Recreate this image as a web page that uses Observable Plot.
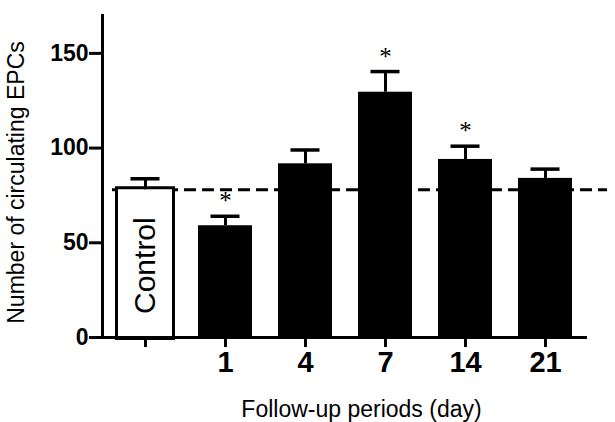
<!DOCTYPE html>
<html>
<head>
<meta charset="utf-8">
<script src="https://cdn.jsdelivr.net/npm/d3@7"></script>
<script src="https://cdn.jsdelivr.net/npm/@observablehq/plot@0.6"></script>
<style>
  html, body { margin: 0; padding: 0; background: #fff; }
  #chart { width: 615px; height: 422px; }
</style>
</head>
<body>
<div id="chart"></div>
<script>
const categories = ["Control", "1", "4", "7", "14", "21"];
const means = [78, 59, 91.7, 129.5, 94, 84];
const errors = [5.8, 5, 7.3, 10.9, 7, 4.9];
const significant = [false, true, false, true, true, false];
const yTicks = [0, 50, 100, 150];
const xTitle = "Follow-up periods (day)";
const yTitle = "Number of circulating EPCs";
const controlLabel = "Control";

const data = categories.map((c, i) => ({
  cat: c, mean: means[i], err: errors[i], sig: significant[i], control: i === 0
}));
const controlMean = means[0];

const FONT = "Liberation Sans, Arial, Helvetica, sans-serif";

const chart = Plot.plot({
  width: 615,
  height: 422,
  marginTop: 15,
  marginBottom: 85,
  marginLeft: 102,
  marginRight: 28,
  style: { fontFamily: FONT, background: "#fff", color: "#000" },
  x: { type: "band", domain: categories, paddingInner: 0.33, paddingOuter: 0.165, label: null },
  y: { domain: [0, 170], label: null },
  marks: [
    Plot.ruleY([controlMean], { stroke: "#000", strokeWidth: 3, strokeDasharray: "12,6", insetLeft: 10, insetRight: -20 }),
    Plot.barY(data.filter(d => d.control), { x: "cat", y: "mean", fill: "#fff", stroke: "#000", strokeWidth: 3, inset: -1.5 }),
    Plot.barY(data.filter(d => !d.control), { x: "cat", y: "mean", fill: "#000" }),
    Plot.ruleX(data, { x: "cat", y1: "mean", y2: d => d.mean + d.err, stroke: "#000", strokeWidth: 3 }),
    Plot.tickY(data, { x: "cat", y: d => d.mean + d.err, stroke: "#000", strokeWidth: 3.5, inset: 12.5 }),
    Plot.text(data.filter(d => d.sig), { x: "cat", y: d => d.mean + d.err, text: () => "*", fontFamily: "Liberation Serif, Times New Roman, serif", fontSize: 25, lineAnchor: "bottom", dy: -7, fill: "#000" }),
    Plot.text(data.filter(d => d.control), { x: "cat", y: d => d.mean / 2, text: () => controlLabel, rotate: -90, fontSize: 30, fill: "#000", dy: 2 }),
    Plot.ruleY([0], { stroke: "#000", strokeWidth: 3 }),
    Plot.frame({ anchor: "left", stroke: "#000", strokeWidth: 3 }),
    Plot.axisY({ ticks: yTicks, tickSize: 13, tickPadding: 1, fontSize: 23, fontWeight: "bold", strokeWidth: 3, label: null }),
    Plot.axisX({ tickSize: 10, tickPadding: 4, fontSize: 29, fontWeight: "bold", strokeWidth: 3, label: null, tickFormat: d => d === "Control" ? "" : d }),
    Plot.text([xTitle], { frameAnchor: "bottom", textAnchor: "middle", lineAnchor: "middle", dx: 16.5, dy: 72, fontSize: 23, fill: "#000" }),
    Plot.text([yTitle], { frameAnchor: "left", textAnchor: "middle", lineAnchor: "middle", rotate: -90, dx: -86, dy: 6, fontSize: 23, fill: "#000" })
  ]
});
document.getElementById("chart").appendChild(chart);
</script>
</body>
</html>
